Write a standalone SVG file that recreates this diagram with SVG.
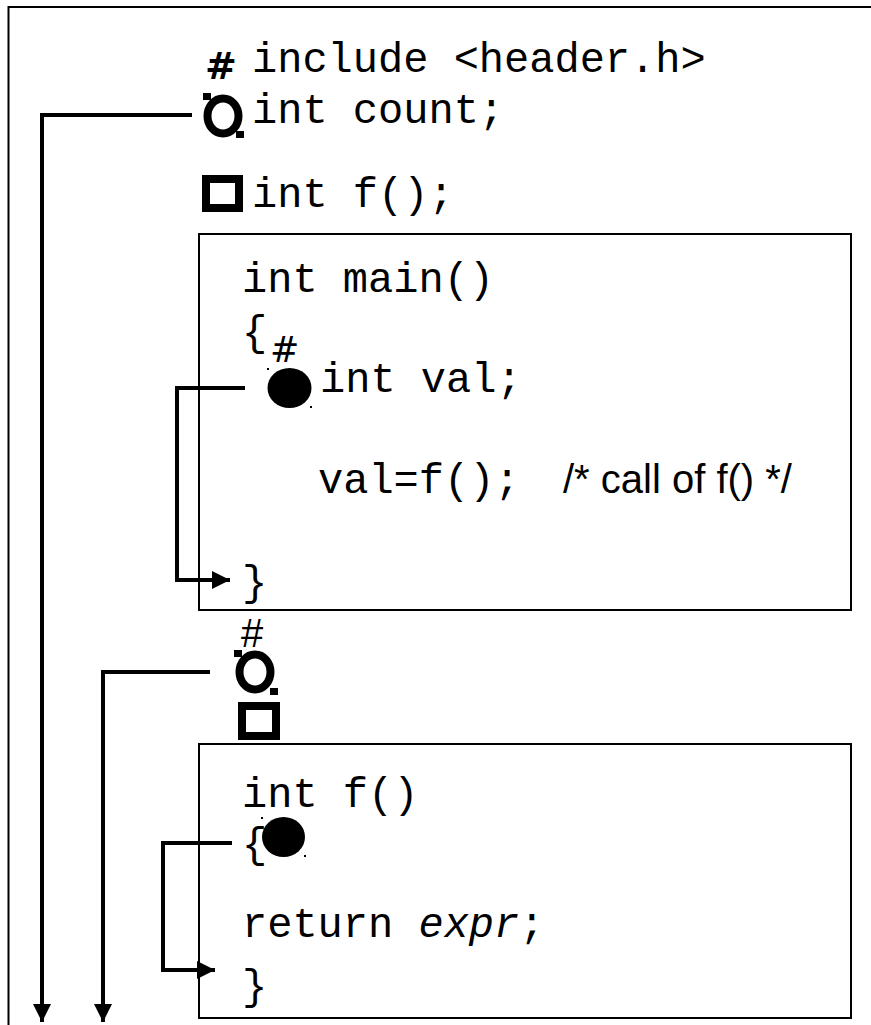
<svg xmlns="http://www.w3.org/2000/svg" width="871" height="1025" viewBox="0 0 871 1025">
<style>
.code{font-family:"Liberation Mono","Courier New",monospace;font-size:42px;fill:#000}
.sans{font-family:"Liberation Sans",Arial,sans-serif;fill:#000}
.hash{font-family:"DejaVu Sans",sans-serif;fill:#000}
.box{fill:#fff;stroke:#000;stroke-width:2}
.conn{fill:none;stroke:#000;stroke-width:4}
.hollow{fill:none;stroke:#000;stroke-width:8}
.handle{fill:#000}
</style>
<defs>
<marker id="arr" viewBox="0 0 10 10" refX="10" refY="5" markerWidth="4.5" markerHeight="4.5" markerUnits="strokeWidth" orient="auto">
<path d="M0,0 L10,5 L0,10 z" fill="#000"/>
</marker>
</defs>
<rect x="8.5" y="7" width="900" height="1040" fill="#fff" stroke="#000" stroke-width="2"/>
<g id="include">
<text class="hash" x="205" y="79" font-size="38" font-weight="bold">#</text>
<text class="code" x="252" y="72">include &lt;header.h&gt;</text>
</g>
<g id="count">
<ellipse class="hollow" cx="223" cy="116" rx="15.5" ry="17.5"/>
<rect class="handle" x="203" y="93" width="8" height="7"/>
<rect class="handle" x="236" y="131" width="8" height="7"/>
<text class="code" x="252" y="123">int count;</text>
</g>
<g id="decl-f">
<rect x="206" y="179" width="33" height="29" fill="none" stroke="#000" stroke-width="8"/>
<text class="code" x="252" y="207">int f();</text>
</g>
<g id="main">
<rect class="box" x="199" y="234" width="652" height="376"/>
<text class="code" x="242" y="292">int main()</text>
<text class="code" x="242" y="345">{</text>
<text class="hash" x="270" y="362" font-size="35">#</text>
<ellipse cx="289.5" cy="388" rx="22" ry="20" fill="#000"/>
<rect class="handle" x="267" y="368" width="2" height="2"/>
<rect class="handle" x="310" y="406" width="2" height="2"/>
<text class="code" x="320" y="392">int val;</text>
<text class="code" x="318" y="493">val=f();</text>
<text class="sans" x="563" y="493" font-size="40">/* call of f() */</text>
<text class="code" x="242" y="595">}</text>
</g>
<g id="after-main">
<text class="sans" x="241" y="647" font-size="40">#</text>
<ellipse class="hollow" cx="255" cy="672" rx="15.5" ry="17.5"/>
<rect class="handle" x="234" y="650" width="8" height="7"/>
<rect class="handle" x="270" y="688" width="8" height="7"/>
<rect x="242" y="706" width="34" height="30" fill="none" stroke="#000" stroke-width="8"/>
</g>
<g id="f">
<rect class="box" x="199" y="744" width="652" height="274"/>
<text class="code" x="242" y="807">int f()</text>
<text class="code" x="242" y="857">{</text>
<ellipse cx="283.5" cy="837" rx="21.5" ry="20" fill="#000"/>
<rect class="handle" x="261" y="817" width="2" height="2"/>
<rect class="handle" x="304" y="855" width="2" height="2"/>
<text class="code" x="242" y="937">return <tspan font-style="italic">expr</tspan>;</text>
<text class="code" x="242" y="999">}</text>
</g>
<g id="connectors">
<polyline class="conn" points="192,115 42,115 42,1022" marker-end="url(#arr)"/>
<polyline class="conn" points="210,672 103,672 103,1022" marker-end="url(#arr)"/>
<polyline class="conn" points="245,388 177,388 177,580 230,580" marker-end="url(#arr)"/>
<polyline class="conn" points="232,843 163,843 163,970 215,970" marker-end="url(#arr)"/>
</g>
</svg>
